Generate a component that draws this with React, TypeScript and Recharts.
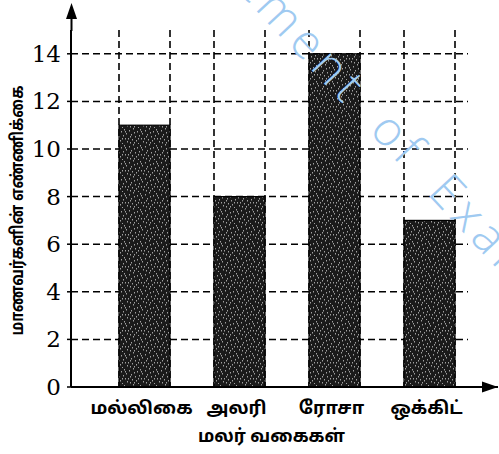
import * as React from "react";
import { Bar, BarChart, CartesianGrid, Label, XAxis, YAxis } from "recharts";

const flowers = ["மல்லிகை", "அலரி", "ரோசா", "ஒக்கிட்"];
const students = [11, 8, 14, 7];
const yTicks = [0, 2, 4, 6, 8, 10, 12, 14];
const yMax = 15;
const xTitle = "மலர் வகைகள்";
const yTitle = "மாணவர்களின் எண்ணிக்கை";
const watermark = "Department of Examinations";

const data = flowers.map((flower, i) => ({ flower, students: students[i] }));

const TAMIL_FONT = "'Noto Sans Tamil', 'Lohit Tamil', 'FreeSans', 'Noto Sans', sans-serif";
// Liberation Serif digits come out sans here, DejaVu Serif keeps the serifs
const SERIF_FONT = "'DejaVu Serif', serif";
const DASH = "7 4";

// speckles for the scanned-print look of the bars
const SPECKS = [
  [1, 2], [5, 0], [9, 3], [3, 6], [7, 8], [11, 7], [0, 10], [4, 11], [8, 12], [12, 1], [2, 14], [10, 15],
  [6, 4], [13, 10], [14, 5], [15, 13], [6, 14], [10, 10], [2, 8], [13, 3],
];

function TexturedBar(props: any) {
  const { x, y, width, height, payload } = props;
  const value = payload?.students ?? 1;
  const base = y + height;
  // top of the vertical guide lines sits at yMax on the value scale
  const top = base - (yMax * height) / value;
  return (
    <g>
      <line x1={x} x2={x} y1={top} y2={base} stroke="#000" strokeWidth={1.6} strokeDasharray={DASH} />
      <line x1={x + width} x2={x + width} y1={top} y2={base} stroke="#000" strokeWidth={1.6} strokeDasharray={DASH} />
      <rect x={x} y={y} width={width} height={height} fill="url(#speckle)" stroke="#000" strokeWidth={1.2} />
    </g>
  );
}

function FlowerTick({ x, y, payload }: any) {
  return (
    <text x={x - 3} y={y} dy={19} textAnchor="middle" fontFamily={TAMIL_FONT} fontWeight={700} fontSize={18} fill="#000">
      {payload.value}
    </text>
  );
}

function CountTick({ x, y, payload }: any) {
  return (
    <text x={x} y={y} dy={8} textAnchor="end" fontFamily={SERIF_FONT} fontSize={23} fill="#000">
      {payload.value}
    </text>
  );
}

function YTitle({ viewBox }: any) {
  const cx = 18;
  const cy = viewBox.y + viewBox.height / 2 + 2;
  return (
    <text
      x={cx}
      y={cy}
      transform={`rotate(-90 ${cx} ${cy})`}
      textAnchor="middle"
      dominantBaseline="central"
      fontFamily={TAMIL_FONT}
      fontWeight={700}
      fontSize={17}
      textLength={250}
      lengthAdjust="spacingAndGlyphs"
      fill="#000"
    >
      {yTitle}
    </text>
  );
}

function XTitle({ viewBox }: any) {
  const cx = viewBox.x + viewBox.width / 2 - 13;
  return (
    <text
      x={cx}
      y={viewBox.y + 55}
      textAnchor="middle"
      fontFamily={TAMIL_FONT}
      fontWeight={700}
      fontSize={18}
      textLength={147}
      lengthAdjust="spacingAndGlyphs"
      fill="#000"
    >
      {xTitle}
    </text>
  );
}

export default function App() {
  return (
    <div style={{ position: "absolute", left: 0, top: 0, width: 499, height: 454, background: "#fff" }}>
      <BarChart width={499} height={454} data={data} margin={{ top: 30, right: 1, bottom: 0, left: 0 }} barSize={51}>
        <defs>
          <pattern id="speckle" width={16} height={16} patternUnits="userSpaceOnUse">
            <rect width={16} height={16} fill="#1a1a1a" />
            {SPECKS.map(([sx, sy], i) => (
              <rect key={i} x={sx} y={sy} width={1} height={1.5} fill="#a0a0a0" />
            ))}
          </pattern>
        </defs>
        <CartesianGrid
          vertical={false}
          horizontalValues={yTicks}
          width={397}
          stroke="#000"
          strokeWidth={1.5}
          strokeDasharray={DASH}
        />
        <XAxis
          dataKey="flower"
          padding={{ left: 26, right: 21 }}
          height={67}
          tickLine={false}
          axisLine={{ stroke: "#000", strokeWidth: 2 }}
          tick={<FlowerTick />}
          interval={0}
        >
          <Label content={<XTitle />} />
        </XAxis>
        <YAxis
          width={71}
          domain={[0, yMax]}
          ticks={yTicks}
          interval={0}
          tickSize={4}
          tickMargin={6}
          tickLine={{ stroke: "#000", strokeWidth: 1.5 }}
          axisLine={{ stroke: "#000", strokeWidth: 2 }}
          tick={<CountTick />}
        >
          <Label content={<YTitle />} />
        </YAxis>
        <Bar dataKey="students" shape={<TexturedBar />} isAnimationActive={false} />
      </BarChart>
      <svg width={499} height={454} style={{ position: "absolute", left: 0, top: 0, pointerEvents: "none" }}>
        {/* axis arrows */}
        <line x1={71.5} x2={71.5} y1={31} y2={12} stroke="#000" strokeWidth={2} />
        <polygon points="71.5,3 66,19 77,19" fill="#000" />
        <polygon points="498,387 482,381.5 482,392.5" fill="#000" />
        {/* faint watermark from the source page */}
        <text
          x={400}
          y={165}
          transform="rotate(47 400 165)"
          textAnchor="middle"
          fontFamily="'Open Sans', 'Liberation Sans', sans-serif"
          fontWeight={300}
          fontSize={48}
          letterSpacing={6}
          wordSpacing={12}
          fill="#9fcaf1"
        >
          {watermark}
        </text>
      </svg>
    </div>
  );
}
